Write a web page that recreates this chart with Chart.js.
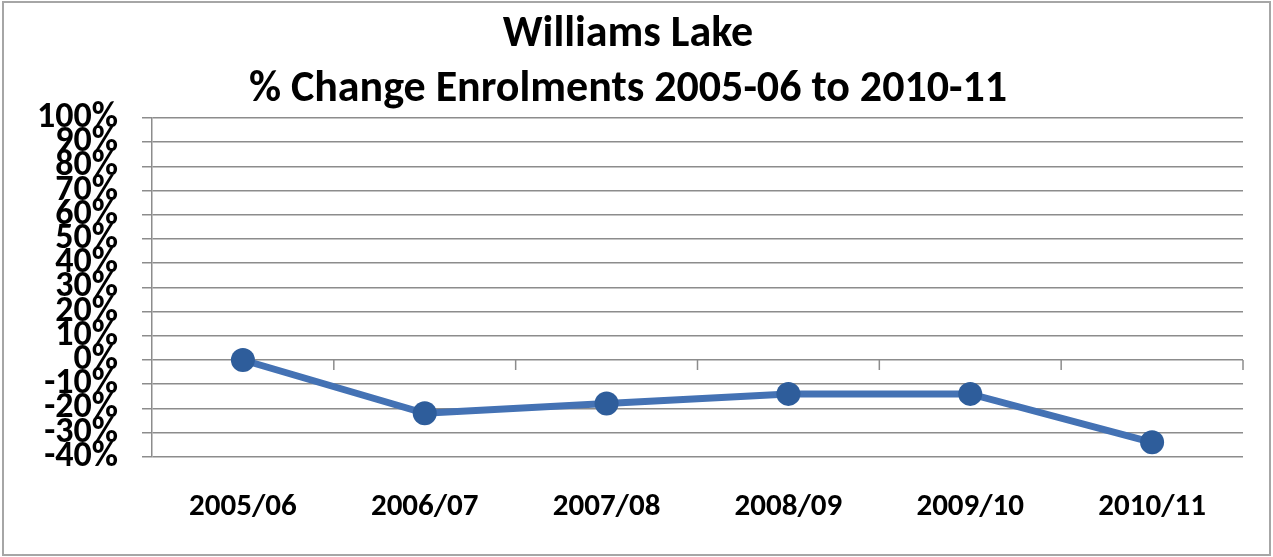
<!DOCTYPE html>
<html>
<head>
<meta charset="utf-8">
<script src="https://cdn.jsdelivr.net/npm/chart.js@4"></script>
<style>
  html, body { margin: 0; padding: 0; background: #fff; }
  #wrap { position: relative; width: 1273px; height: 557px; }
  #frame { position: absolute; left: 2px; top: 1px; width: 1269px; height: 555px; border: 2px solid #a6a6a6; box-sizing: border-box; }
</style>
</head>
<body>
<div id="wrap">
  <canvas id="chart" width="1273" height="557"></canvas>
  <div id="frame"></div>
</div>
<script>
let years = ['2005/06', '2006/07', '2007/08', '2008/09', '2009/10', '2010/11'];
let pctChange = [0, -22, -18, -14, -14, -34];
let titleLines = ['Williams Lake', '% Change Enrolments 2005-06 to 2010-11'];
let yMin = -40;
let yMax = 100;
let yStep = 10;

let fontFamily = "Carlito, 'Open Sans', sans-serif";

// small downward ticks on the zero line, between categories
let zeroTicks = {
    id: 'zeroTicks',
    afterDatasetsDraw(chart) {
        let ctx = chart.ctx;
        let x = chart.scales.x;
        let y0 = chart.scales.y.getPixelForValue(0);
        ctx.save();
        ctx.strokeStyle = '#8c8c8c';
        ctx.lineWidth = 1.5;
        for (let i = 0; i < years.length; i++) {
            let px = x.getPixelForValue(i + 0.5);
            ctx.beginPath();
            ctx.moveTo(px, y0);
            ctx.lineTo(px, y0 + 10);
            ctx.stroke();
        }
        ctx.restore();
    }
};

let ctx = document.getElementById('chart').getContext('2d');
let chart = new Chart(ctx, {
    type: 'line',
    data: {
        labels: years,
        datasets: [{
            data: pctChange,
            borderColor: '#4472b4',
            borderWidth: 7,
            pointRadius: 12,
            pointBackgroundColor: '#2e5d9b',
            pointBorderColor: '#2e5d9b',
            pointBorderWidth: 0,
            tension: 0
        }]
    },
    options: {
        responsive: false,
        animation: false,
        // tick padding is counted twice when axes are fitted
        layout: { padding: { left: 13, top: 7, right: 30, bottom: 0 } },
        plugins: {
            legend: { display: false },
            tooltip: { enabled: false },
            title: {
                display: true,
                text: titleLines,
                color: '#000',
                font: { family: fontFamily, size: 44, weight: 'bold', lineHeight: 1.25 },
                padding: { top: 0, bottom: 1 }
            }
        },
        scales: {
            x: {
                offset: true,
                grid: { display: false, drawTicks: false },
                border: { display: false },
                ticks: {
                    color: '#000',
                    padding: 31.5,
                    font: { family: fontFamily, size: 31, weight: 'bold' }
                }
            },
            y: {
                min: yMin,
                max: yMax,
                grid: { color: '#8c8c8c', lineWidth: 1.5, tickLength: 10 },
                border: { color: '#8c8c8c', width: 1.5 },
                ticks: {
                    stepSize: yStep,
                    color: '#000',
                    padding: 24,
                    autoSkip: false,
                    font: { family: fontFamily, size: 36, weight: 'bold', lineHeight: 0.6 },
                    callback: v => v + '%'
                }
            }
        }
    },
    plugins: [zeroTicks]
});
</script>
</body>
</html>
